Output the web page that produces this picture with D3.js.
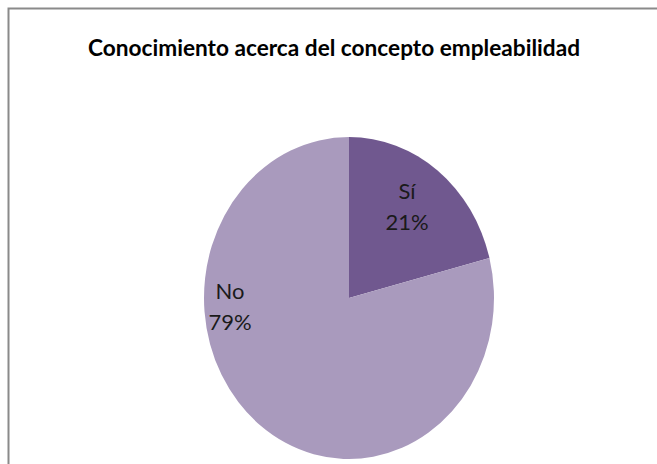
<!DOCTYPE html>
<html>
<head>
<meta charset="utf-8">
<script src="https://cdn.jsdelivr.net/npm/d3@7"></script>
<style>
  html, body { margin: 0; padding: 0; background: #ffffff; }
  svg { display: block; }
</style>
</head>
<body>
<script>
const title = "Conocimiento acerca del concepto empleabilidad";
const categories = ["Sí", "No"];
const values = [21, 79];
const colors = ["#70588f", "#a99abd"];

const W = 657, H = 464;
const svg = d3.select("body").append("svg").attr("width", W).attr("height", H);

svg.append("rect").attr("x", 0).attr("y", 0).attr("width", W).attr("height", H).attr("fill", "#ffffff");
// chart frame (top and left edges visible)
svg.append("path")
  .attr("d", `M8.5,${H} L8.5,8.5 L${W},8.5`)
  .attr("fill", "none").attr("stroke", "#8a8a8a").attr("stroke-width", 2);

svg.append("text")
  .attr("x", 334).attr("y", 56)
  .attr("text-anchor", "middle")
  .attr("font-family", "Lato, 'Open Sans', sans-serif")
  .attr("font-weight", "bold")
  .attr("font-size", 22)
  .attr("textLength", 492)
  .attr("lengthAdjust", "spacingAndGlyphs")
  .attr("fill", "#000")
  .text(title);

const cx = 349, cy = 298, rx = 145, ry = 161;
const pie = d3.pie().sort(null).value(d => d.v);
const data = pie(categories.map((c, i) => ({ c, v: values[i], col: colors[i] })));
const arc = d3.arc().innerRadius(0).outerRadius(rx);

const g = svg.append("g").attr("transform", `translate(${cx},${cy}) scale(1,${ry / rx})`);
g.selectAll("path").data(data).join("path")
  .attr("d", arc)
  .attr("fill", d => d.data.col);

const total = d3.sum(values);
const labelPos = [[407, 191], [230, 291]];
const lbl = svg.append("g")
  .attr("font-family", "Lato, 'Open Sans', sans-serif")
  .attr("font-size", 22)
  .attr("fill", "#1a1a1a")
  .attr("text-anchor", "middle");
data.forEach((d, i) => {
  const t = lbl.append("text").attr("x", labelPos[i][0]).attr("y", labelPos[i][1]);
  t.append("tspan").attr("x", labelPos[i][0]).attr("dy", "0.35em").text(d.data.c);
  t.append("tspan").attr("x", labelPos[i][0]).attr("dy", "1.42em")
    .text(Math.round(d.data.v / total * 100) + "%");
});
</script>
</body>
</html>
